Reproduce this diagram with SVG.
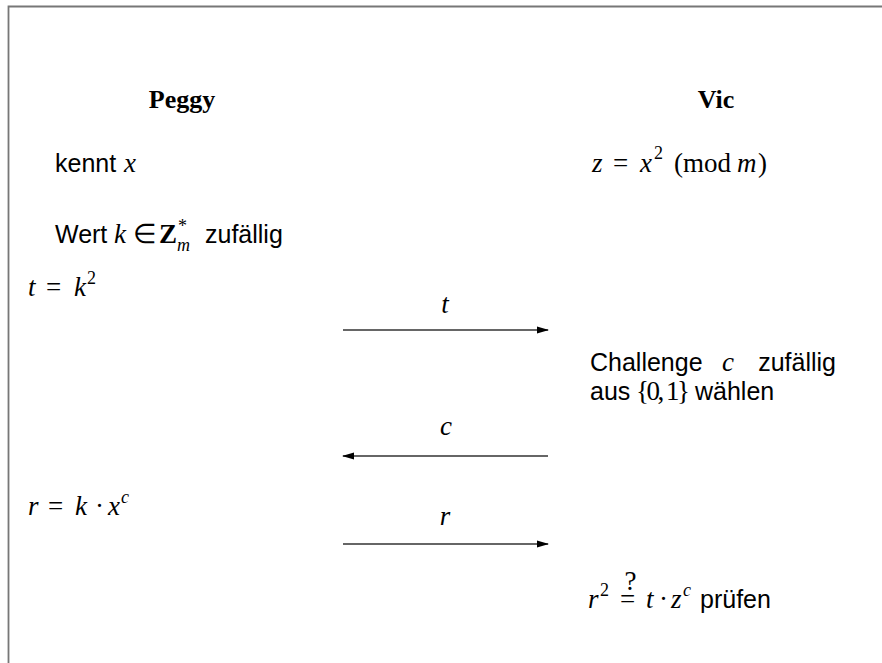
<svg xmlns="http://www.w3.org/2000/svg" width="882" height="663" viewBox="0 0 882 663">
<style>
.title{font-family:"Liberation Serif",serif;font-weight:bold;font-size:26px;fill:#000}
.sans{font-family:"Liberation Sans",Arial,sans-serif;font-size:25px;fill:#000}
.m{font-family:"Liberation Serif","Times New Roman",serif;font-size:27px;fill:#000}
.mi{font-family:"Liberation Serif","Times New Roman",serif;font-style:italic;font-size:27px;fill:#000}
.sup{font-family:"Liberation Serif","Times New Roman",serif;font-size:18px;fill:#000}
.supi{font-family:"Liberation Serif","Times New Roman",serif;font-style:italic;font-size:18px;fill:#000}
.conn line{stroke:#333;stroke-width:1.5;fill:none}
</style>
<defs>
<marker id="ah" markerUnits="userSpaceOnUse" markerWidth="12" markerHeight="8" refX="11" refY="4" orient="auto">
<path d="M0,0.5 L12,4 L0,7.5 z" fill="#000"/>
</marker>
</defs>
<rect x="0" y="0" width="882" height="663" fill="#fff"/>
<path d="M8.5,663 V6.5 H882" fill="none" stroke="#777" stroke-width="1.8"/>

<g id="peggy"><text class="title" x="182" y="108" text-anchor="middle">Peggy</text></g>
<g id="vic"><text class="title" x="716" y="108" text-anchor="middle">Vic</text></g>

<g id="kennt">
<text class="sans" x="55" y="172">kennt</text>
<text class="mi" x="124" y="172">x</text>
</g>

<g id="z-def">
<text class="mi" x="592" y="172">z</text>
<text class="m" x="613" y="172">=</text>
<text class="mi" x="640" y="172">x</text>
<text class="sup" x="654" y="159">2</text>
<text class="m" x="674" y="172">(mod</text>
<text class="mi" x="737" y="172">m</text>
<text class="m" x="758" y="172">)</text>
</g>

<g id="wert">
<text class="sans" x="55" y="243">Wert</text>
<text class="mi" x="114" y="243">k</text>
<text class="m" x="133" y="243">∈</text>
<text class="m" x="159" y="243" font-weight="bold">Z</text>
<text class="sup" x="178" y="232">*</text>
<text class="supi" x="177" y="251">m</text>
<text class="sans" x="205" y="243">zufällig</text>
</g>

<g id="t-def">
<text class="mi" x="28" y="296">t</text>
<text class="m" x="46" y="296">=</text>
<text class="mi" x="74" y="296">k</text>
<text class="sup" x="87" y="284">2</text>
</g>

<g id="challenge">
<text class="sans" x="590" y="371">Challenge</text>
<text class="mi" x="722" y="371">c</text>
<text class="sans" x="836" y="371" text-anchor="end">zufällig</text>
<text class="sans" x="590" y="400">aus</text>
<text class="m" x="636" y="400" textLength="54" lengthAdjust="spacing">{0, 1}</text>
<text class="sans" x="695" y="400">wählen</text>
</g>

<g id="r-def">
<text class="mi" x="28" y="515">r</text>
<text class="m" x="48" y="515">=</text>
<text class="mi" x="75" y="515">k</text>
<text class="m" x="95" y="515">·</text>
<text class="mi" x="108" y="515">x</text>
<text class="supi" x="121" y="503">c</text>
</g>

<g id="check">
<text class="mi" x="588" y="608">r</text>
<text class="sup" x="600" y="596">2</text>
<text class="m" x="620" y="608">=</text>
<text class="m" x="624.5" y="590" font-size="11">?</text>
<text class="mi" x="646" y="608">t</text>
<text class="m" x="659" y="608">·</text>
<text class="mi" x="671" y="608">z</text>
<text class="supi" x="683" y="596">c</text>
<text class="sans" x="700" y="608">prüfen</text>
</g>

<g id="connectors" class="conn">
<line x1="343" y1="330" x2="548" y2="330" marker-end="url(#ah)"/>
<text class="mi" x="445" y="313" text-anchor="middle">t</text>
<line x1="548" y1="456" x2="343" y2="456" marker-end="url(#ah)"/>
<text class="mi" x="446" y="435" text-anchor="middle">c</text>
<line x1="343" y1="544" x2="548" y2="544" marker-end="url(#ah)"/>
<text class="mi" x="445" y="525" text-anchor="middle">r</text>
</g>
</svg>
